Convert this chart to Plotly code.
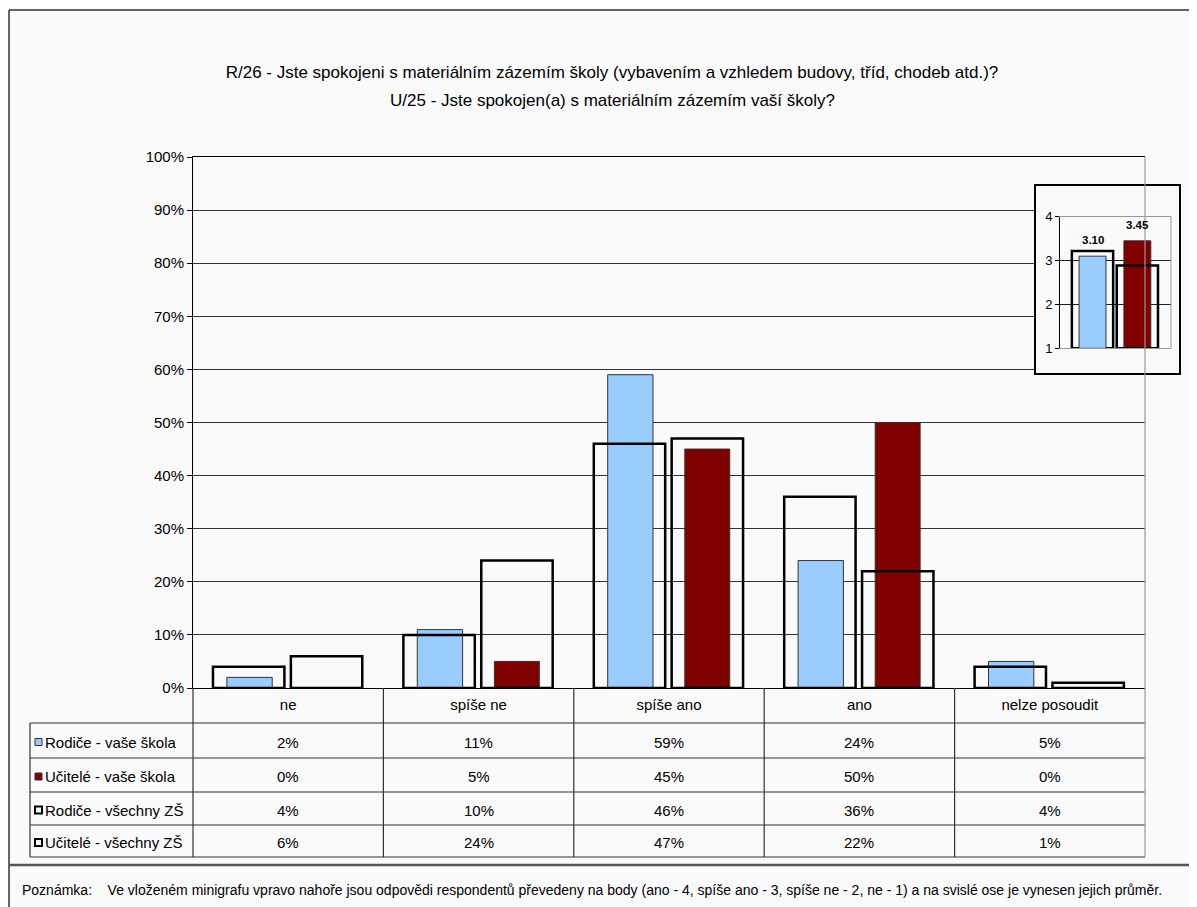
import plotly.graph_objects as go

# ---------------- data ----------------
categories = ["ne", "spíše ne", "spíše ano", "ano", "nelze posoudit"]
rodice_skola = [2, 11, 59, 24, 5]
ucitele_skola = [0, 5, 45, 50, 0]
rodice_vsechny = [4, 10, 46, 36, 4]
ucitele_vsechny = [6, 24, 47, 22, 1]
series_names = ["Rodiče - vaše škola", "Učitelé - vaše škola",
                "Rodiče - všechny ZŠ", "Učitelé - všechny ZŠ"]

y_ticks = [0, 10, 20, 30, 40, 50, 60, 70, 80, 90, 100]
y_tick_labels = [f"{v}%" for v in y_ticks]

mini_groups = ["Rodiče", "Učitelé"]
mini_skola = [3.10, 3.45]
mini_vsechny = [3.22, 2.89]
mini_labels = ["3.10", "3.45"]
mini_ticks = [1, 2, 3, 4]

title_lines = [
    "R/26 - Jste spokojeni s materiálním zázemím školy (vybavením a vzhledem budovy, tříd, chodeb atd.)?",
    "U/25 - Jste spokojen(a) s materiálním zázemím vaší školy?",
]
note_text = ("Poznámka:\u00a0\u00a0\u00a0\u00a0Ve vloženém minigrafu vpravo nahoře jsou odpovědi respondentů "
             "převedeny na body (ano - 4, spíše ano - 3, spíše ne - 2, ne - 1) a na svislé ose je vynesen jejich průměr.")

# ---------------- style ----------------
W, H = 1197, 907
OFF = 8  # page margin of the host page, compensated in positions
BG = "#fafafa"
BLUE = "#99CCFF"
RED = "#800000"
FONT = "Liberation Sans, Arial, sans-serif"
FS = 15


def px(x):
    return (x - OFF) / W


def py(y):
    return 1 - (y - OFF) / H


fig = go.Figure()

# main chart bars
fig.add_trace(go.Bar(x=categories, y=rodice_skola, name=series_names[0],
                     marker=dict(color=BLUE, line=dict(color="#333333", width=1)),
                     offset=-0.322, width=0.238))
fig.add_trace(go.Bar(x=categories, y=ucitele_skola, name=series_names[1],
                     marker=dict(color=RED, line=dict(color="#333333", width=1)),
                     offset=0.083, width=0.236))
fig.add_trace(go.Bar(x=categories, y=rodice_vsechny, name=series_names[2],
                     marker=dict(color="rgba(0,0,0,0)", line=dict(color="black", width=2.5)),
                     offset=-0.395, width=0.375))
fig.add_trace(go.Bar(x=categories, y=ucitele_vsechny, name=series_names[3],
                     marker=dict(color="rgba(0,0,0,0)", line=dict(color="black", width=2.5)),
                     offset=0.014, width=0.375))

# cover subplot (frame of the inset)
fig.add_trace(go.Scatter(x=[None], y=[None], xaxis="x2", yaxis="y2",
                         showlegend=False, hoverinfo="skip"))

# inset mini chart
fig.add_trace(go.Bar(x=[mini_groups[0]], y=[mini_vsechny[0] - 1], base=1,
                     xaxis="x3", yaxis="y3", width=0.92,
                     marker=dict(color="rgba(0,0,0,0)", line=dict(color="black", width=2.5))))
fig.add_trace(go.Bar(x=[mini_groups[0]], y=[mini_skola[0] - 1], base=1,
                     xaxis="x3", yaxis="y3", width=0.6,
                     marker=dict(color=BLUE, line=dict(color="#333333", width=1))))
fig.add_trace(go.Bar(x=[mini_groups[1]], y=[mini_skola[1] - 1], base=1,
                     xaxis="x3", yaxis="y3", width=0.6,
                     marker=dict(color=RED, line=dict(color="#333333", width=1))))
fig.add_trace(go.Bar(x=[mini_groups[1]], y=[mini_vsechny[1] - 1], base=1,
                     xaxis="x3", yaxis="y3", width=0.92,
                     marker=dict(color="rgba(0,0,0,0)", line=dict(color="black", width=2.5))))

annotations = []
shapes = []

# second title line
annotations.append(dict(x=px(612), y=py(101), xref="paper", yref="paper",
                        text=title_lines[1], showarrow=False, xanchor="center",
                        yanchor="middle", font=dict(family=FONT, size=17, color="black")))

# inset value labels
for g, v, lab in zip(mini_groups, mini_skola, mini_labels):
    annotations.append(dict(x=g, y=v, xref="x3", yref="y3", text="<b>" + lab + "</b>",
                            showarrow=False, yanchor="middle", yshift=16,
                            font=dict(family=FONT, size=11.5, color="black")))

# table geometry (pixel rows)
row_lines = [723, 758, 792, 825, 857]
row_data = [rodice_skola, ucitele_skola, rodice_vsechny, ucitele_vsechny]
LINE = dict(color="#333333", width=1.2)

for yl in row_lines:
    shapes.append(dict(type="line", xref="paper", yref="paper",
                       x0=px(30), x1=px(1145), y0=py(yl), y1=py(yl), line=LINE))
shapes.append(dict(type="line", xref="paper", yref="paper",
                   x0=px(30), x1=px(30), y0=py(723), y1=py(857), line=LINE))
shapes.append(dict(type="line", xref="paper", yref="paper",
                   x0=px(193), x1=px(193), y0=py(688), y1=py(857), line=LINE))
for i in range(len(categories) - 1):
    shapes.append(dict(type="line", xref="x", yref="paper",
                       x0=i + 0.5, x1=i + 0.5, y0=py(688), y1=py(857), line=LINE))
# right border of plot + table
shapes.append(dict(type="line", xref="paper", yref="paper",
                   x0=px(1145), x1=px(1145), y0=py(157), y1=py(857),
                   line=dict(color="#999999", width=1.2)))

# table text
for r, (name, vals) in enumerate(zip(series_names, row_data)):
    yc = (row_lines[r] + row_lines[r + 1]) / 2 + 1.5
    annotations.append(dict(x=px(43), y=py(yc), xref="paper", yref="paper",
                            text=name, showarrow=False, xanchor="left", yanchor="middle",
                            font=dict(family=FONT, size=FS, color="black")))
    for c, v in zip(categories, vals):
        annotations.append(dict(x=c, y=py(yc), xref="x", yref="paper",
                                text=f"{v}%", showarrow=False, xanchor="center",
                                yanchor="middle",
                                font=dict(family=FONT, size=FS, color="black")))
    # legend keys
    if r < 2:
        col = BLUE if r == 0 else RED
        shapes.append(dict(type="rect", xref="paper", yref="paper",
                           x0=px(35), x1=px(42), y0=py(yc - 3.5), y1=py(yc + 3.5),
                           fillcolor=col, line=dict(color="#333333", width=1)))
    else:
        shapes.append(dict(type="rect", xref="paper", yref="paper",
                           x0=px(35), x1=px(42), y0=py(yc - 3.5), y1=py(yc + 3.5),
                           fillcolor="white", line=dict(color="black", width=2)))

# outer frame
FRAME = dict(color="#333333", width=1.5)
shapes.append(dict(type="line", xref="paper", yref="paper",
                   x0=px(9), x1=1, y0=py(10), y1=py(10), line=FRAME))
shapes.append(dict(type="line", xref="paper", yref="paper",
                   x0=px(9), x1=px(9), y0=py(10), y1=0, line=FRAME))
shapes.append(dict(type="line", xref="paper", yref="paper",
                   x0=px(9), x1=1, y0=py(865), y1=py(865),
                   line=dict(color="#555555", width=2.5)))

# footnote
annotations.append(dict(x=px(20), y=py(890), xref="paper", yref="paper",
                        text=note_text, showarrow=False, xanchor="left", yanchor="middle",
                        font=dict(family=FONT, size=14, color="black")))

fig.update_layout(
    width=W, height=H,
    margin=dict(l=0, r=0, t=0, b=0, pad=0, autoexpand=False),
    paper_bgcolor=BG, plot_bgcolor=BG,
    showlegend=False,
    barmode="overlay",
    font=dict(family=FONT, size=FS, color="black"),
    title=dict(text=title_lines[0],
               x=px(612), xanchor="center", y=py(72), yanchor="middle",
               font=dict(family=FONT, size=17, color="black")),
    xaxis=dict(domain=[px(193), px(1145)], type="category",
               categoryarray=categories, range=[-0.5, 4.5],
               showline=True, linecolor="black", linewidth=1, mirror=True,
               ticks="", showgrid=False, zeroline=False, ticklabelstandoff=3,
               tickfont=dict(family=FONT, size=FS, color="black")),
    yaxis=dict(domain=[py(688), py(157)], range=[0, 100],
               tickmode="array", tickvals=y_ticks, ticktext=y_tick_labels,
               showline=True, linecolor="black", linewidth=1,
               ticks="outside", ticklen=5, tickcolor="black",
               showgrid=True, gridcolor="#333333", gridwidth=1, zeroline=False,
               tickfont=dict(family=FONT, size=FS, color="black")),
    xaxis2=dict(domain=[px(1036), px(1179)], anchor="y2", range=[0, 1],
                showline=True, mirror=True, linecolor="black", linewidth=1.5,
                showticklabels=False, ticks="", showgrid=False, zeroline=False),
    yaxis2=dict(domain=[py(373), py(186)], anchor="x2", range=[0, 1],
                showline=True, mirror=True, linecolor="black", linewidth=1.5,
                showticklabels=False, ticks="", showgrid=False, zeroline=False),
    xaxis3=dict(domain=[px(1060), px(1171)], anchor="y3", type="category",
                categoryarray=mini_groups, range=[-0.725, 1.75],
                showline=True, mirror=True, linecolor="#999999", linewidth=1,
                showticklabels=False, ticks="", showgrid=False, zeroline=False),
    yaxis3=dict(domain=[py(348.3), py(216.7)], anchor="x3", range=[1, 4],
                tickmode="array", tickvals=mini_ticks,
                showline=True, linecolor="black", linewidth=1,
                ticks="outside", ticklen=4, tickcolor="black",
                showgrid=True, gridcolor="#222222", gridwidth=1, zeroline=False,
                tickfont=dict(family=FONT, size=13, color="black")),
    annotations=annotations,
    shapes=shapes,
)
# right border of the inset plot area
fig.add_shape(type="line", xref="x3 domain", yref="y3 domain", x0=1, x1=1, y0=0, y1=1,
              line=dict(color="#999999", width=1))

fig.write_html("out.html")
